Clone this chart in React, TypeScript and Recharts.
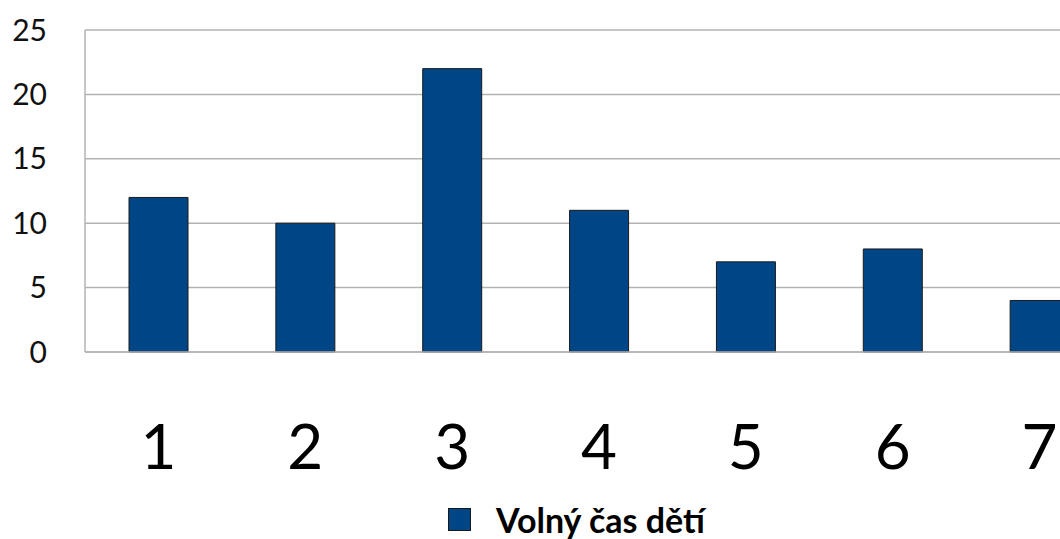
import { BarChart, Bar, XAxis, YAxis, CartesianGrid, Legend } from "recharts";

const categories = ["1", "2", "3", "4", "5", "6", "7"];
const values = [12, 10, 22, 11, 7, 8, 4];
const yTicks = [0, 5, 10, 15, 20, 25];
const seriesName = "Volný čas dětí";

const data = categories.map((c, i) => ({ cat: c, value: values[i] }));

const FONT = "Lato, 'Open Sans', sans-serif";
const BAR_COLOR = "#004586";
const GRID = "#b3b3b3";

function LegendBox() {
  return (
    <div
      style={{
        height: 60,
        boxSizing: "border-box",
        paddingTop: 20,
        paddingLeft: 448,
        display: "flex",
        alignItems: "center",
        fontFamily: FONT,
      }}
    >
      <span
        style={{
          width: 21,
          height: 21,
          background: BAR_COLOR,
          border: "1px solid #1a1a1a",
          display: "inline-block",
        }}
      />
      <span style={{ marginLeft: 25, fontSize: 34, fontWeight: 700, color: "#000" }}>
        {seriesName}
      </span>
    </div>
  );
}

export default function App() {
  return (
    <div
      style={{
        position: "fixed",
        left: 0,
        top: 0,
        width: 1060,
        height: 539,
        overflow: "hidden",
        background: "#fff",
      }}
    >
      <BarChart
        width={1113}
        height={539}
        data={data}
        margin={{ top: 30, right: 0, bottom: 0, left: 0 }}
      >
        <CartesianGrid horizontal vertical={false} stroke={GRID} strokeWidth={1.5} />
        <XAxis
          dataKey="cat"
          height={127}
          tickLine={false}
          tickSize={0}
          tickMargin={73}
          axisLine={{ stroke: GRID, strokeWidth: 1.5 }}
          tick={{ fontSize: 62, fill: "#000", fontFamily: FONT }}
        />
        <YAxis
          width={85}
          domain={[0, 25]}
          ticks={yTicks}
          tickLine={false}
          tickSize={0}
          tickMargin={38}
          axisLine={{ stroke: GRID, strokeWidth: 1.5 }}
          tick={{ fontSize: 30, fill: "#111", fontFamily: FONT }}
        />
        <Legend verticalAlign="bottom" height={60} content={() => <LegendBox />} />
        <Bar
          dataKey="value"
          name={seriesName}
          fill={BAR_COLOR}
          stroke="#1a1a1a"
          strokeWidth={1}
          barSize={59}
          isAnimationActive={false}
        />
      </BarChart>
    </div>
  );
}
